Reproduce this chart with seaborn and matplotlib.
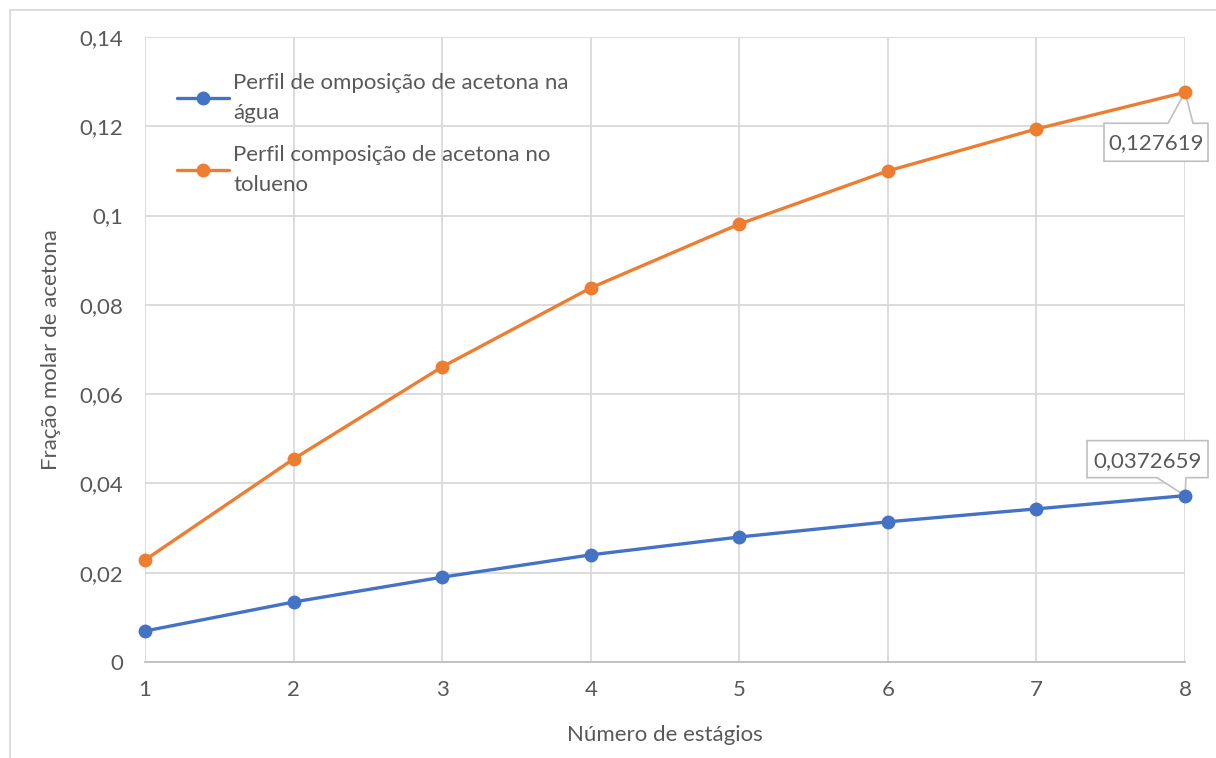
#Perfil de composição de acetona por estágio
import numpy as np
import pandas as pd
import matplotlib
matplotlib.use('Agg')
import matplotlib.pyplot as plt
import seaborn as sns
from matplotlib.patches import Rectangle, Polygon
from matplotlib.transforms import Affine2D, ScaledTranslation

#Data
estagios = [1, 2, 3, 4, 5, 6, 7, 8]
agua = [0.00694, 0.01344, 0.0190, 0.0240, 0.0280, 0.0314, 0.0343, 0.0372659]
tolueno = [0.02285, 0.04548, 0.0661, 0.0838, 0.0981, 0.1100, 0.1194, 0.127619]
series_names = ['Perfil de omposição de acetona na\nágua',
                'Perfil composição de acetona no\ntolueno']
yticks = [0, 0.02, 0.04, 0.06, 0.08, 0.1, 0.12, 0.14]
ytick_labels = ['0', '0,02', '0,04', '0,06', '0,08', '0,1', '0,12', '0,14']
label_agua = '0,0372659'
label_tolueno = '0,127619'

df = pd.DataFrame({
    'estagio': estagios * 2,
    'fracao': agua + tolueno,
    'serie': [series_names[0]] * len(agua) + [series_names[1]] * len(tolueno),
})

sns.set_style('white')
plt.rcParams['font.family'] = ['Lato', 'DejaVu Sans']
txt = '#595959'
grid = '#d9d9d9'
colors = ['#4472C4', '#ED7D31']
fs = 16

fig = plt.figure(figsize=(12.16, 7.58), dpi=100)
ax = fig.add_axes([145/1216, 1-662/758, (1185-145)/1216, (662-37)/758])

sns.lineplot(data=df, x='estagio', y='fracao', hue='serie', palette=colors,
             marker='o', markersize=10, markeredgewidth=0, linewidth=2.4,
             ax=ax, legend=False, clip_on=False, zorder=3)

ax.set_xlim(1, 8)
ax.set_ylim(0, 0.14)
ax.set_xticks(estagios)
ax.set_xticklabels([str(e) for e in estagios])
ax.set_yticks(yticks)
ax.set_yticklabels(ytick_labels)
ax.grid(True, color=grid, linewidth=1.3)
ax.set_axisbelow(True)
for s in ['top', 'right', 'left']:
    ax.spines[s].set_visible(False)
ax.spines['bottom'].set_color('#bfbfbf')
ax.spines['bottom'].set_linewidth(1.3)
ax.tick_params(axis='both', length=0, labelsize=fs, colors=txt)
ax.tick_params(axis='x', pad=13)
ax.tick_params(axis='y', pad=16)
ax.set_xlabel('Número de estágios', fontsize=fs, color=txt, labelpad=18)
ax.set_ylabel('Fração molar de acetona', fontsize=fs, color=txt, labelpad=13)

#Legend
handles = [plt.Line2D([], [], color=c, lw=2.4, marker='o', markersize=10,
                      markeredgewidth=0) for c in colors]
leg = ax.legend(handles, series_names, loc='upper left', bbox_to_anchor=(0.012, 0.975),
                frameon=False, fontsize=fs, handlelength=2.3, handletextpad=0.2,
                labelspacing=1.0, labelcolor=txt)
for t in leg.get_texts():
    t.set_linespacing(1.62)

#Data labels (callouts): shape in pixel offsets from the point, y downwards
def callout(x, y, text, shape, text_pos):
    tr = Affine2D().scale(1, -1) + ScaledTranslation(x, y, ax.transData)
    ax.add_patch(Polygon(shape, closed=True, transform=tr, fc='white',
                         ec='#bfbfbf', lw=1.2, zorder=2.5, clip_on=False))
    ax.text(text_pos[0], text_pos[1], text, transform=tr, ha='center', va='center',
            fontsize=fs, color=txt, zorder=2.6)

callout(estagios[-1], tolueno[-1], label_tolueno,
        [(-81, 31), (-17, 31), (0, 0), (8, 31), (23, 31), (23, 69), (-81, 69)],
        (-29, 51))
callout(estagios[-1], agua[-1], label_agua,
        [(-98, -55), (23, -55), (23, -18), (1, -18), (0, 0), (-28, -18), (-98, -18)],
        (-37.5, -35))

#Chart area border
fig.patches.append(Rectangle((10/1216, -0.1), 1.2, 1.1 - 10/758, transform=fig.transFigure,
                             fill=False, ec='#d9d9d9', lw=1.3, zorder=0))

plt.savefig('out.png', dpi=100)
